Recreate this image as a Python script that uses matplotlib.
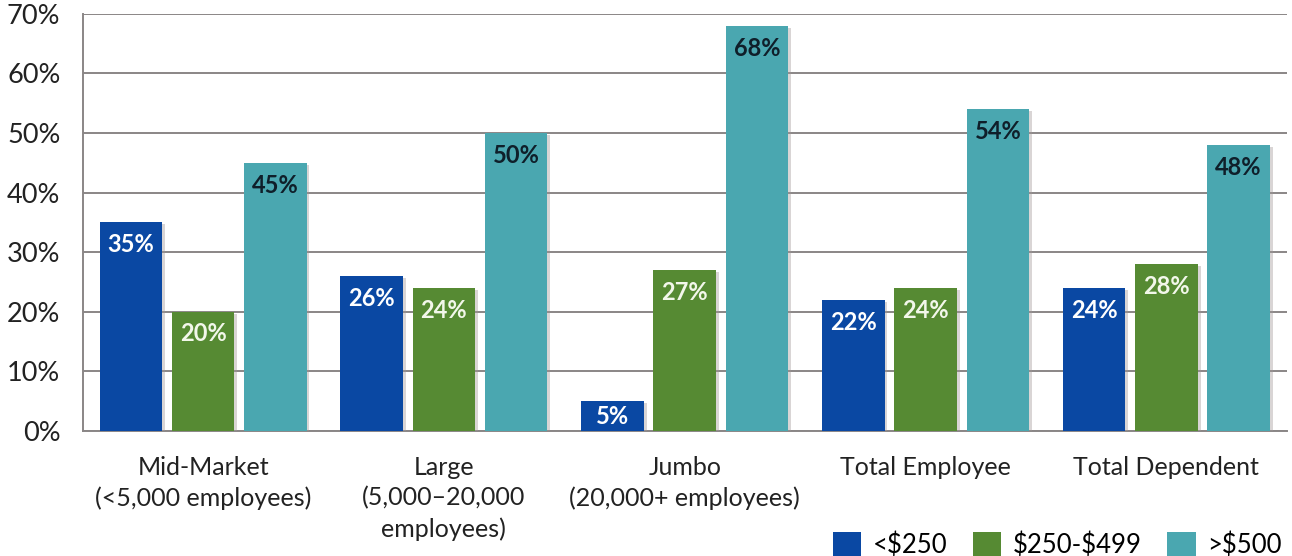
import numpy as np
import matplotlib
matplotlib.use("Agg")
import matplotlib.pyplot as plt
from matplotlib import patheffects as pe
from matplotlib.patches import Patch

plt.rcParams['font.family'] = ['Lato', 'DejaVu Sans']
plt.rcParams['text.parse_math'] = False

categories = ["Mid-Market\n(<5,000 employees)",
              "Large\n(5,000\u201320,000\nemployees)",
              "Jumbo\n(20,000+ employees)",
              "Total Employee",
              "Total Dependent"]
series_names = ["<$250", "$250-$499", ">$500"]
under_250 = [35, 26, 5, 22, 24]
from_250_499 = [20, 24, 27, 24, 28]
over_500 = [45, 50, 68, 54, 48]
yticks = [0, 10, 20, 30, 40, 50, 60, 70]

colors = ["#0a48a3", "#568a33", "#4aa7b0"]
label_colors = ["white", "#f2f7ea", "#0f1f2a"]

fig = plt.figure(figsize=(12.92, 5.56), dpi=100)
ax = fig.add_axes([0.064, 0.225, 0.932, 0.75])

x = np.arange(len(categories))
width = 0.26
step = 0.3
shadow = [pe.SimplePatchShadow(offset=(2, -1.5), shadow_rgbFace="#a09898", alpha=0.4), pe.Normal()]

for i, (vals, col, lc) in enumerate(zip([under_250, from_250_499, over_500], colors, label_colors)):
    pos = x + (i - 1) * step
    bars = ax.bar(pos, vals, width, color=col, zorder=3, label=series_names[i])
    for b in bars:
        b.set_path_effects(shadow)
    for p, v in zip(pos, vals):
        if v < 8:
            ax.text(p, v / 2, f"{v}%", ha="center", va="center", color=lc,
                    fontsize=17, fontweight="bold", zorder=4)
        else:
            ax.annotate(f"{v}%", (p, v), xytext=(0, -16), textcoords="offset points",
                        ha="center", va="center", color=lc, fontsize=17,
                        fontweight="bold", zorder=4)

ax.set_xlim(-0.5, 4.5)
ax.set_ylim(0, 70)
ax.set_yticks(yticks)
ax.set_yticklabels([f"{t}%" for t in yticks], fontsize=19.5, color="#222222")
ax.yaxis.grid(True, color="#8a8686", linewidth=1.4, zorder=0)
ax.set_axisbelow(True)
ax.tick_params(axis="y", length=0, pad=16)
ax.tick_params(axis="x", length=0, pad=18)
ax.set_xticks(x)
ax.set_xticklabels(categories, fontsize=18, color="#222222", linespacing=1.38, va="top")

for s in ["top", "right"]:
    ax.spines[s].set_visible(False)
ax.spines["left"].set_color("#8a8686")
ax.spines["left"].set_linewidth(1.4)
ax.spines["bottom"].set_color("#8a8686")
ax.spines["bottom"].set_linewidth(1.4)

handles = [Patch(facecolor=c, edgecolor="none") for c in colors]
fig.legend(handles, series_names, loc="center right", bbox_to_anchor=(1.0, 0.02),
           ncol=3, frameon=False, fontsize=18.5, handlelength=1.1, handleheight=1.1,
           handletextpad=0.45, columnspacing=1.0, borderaxespad=0.0)

fig.savefig("out.png", dpi=100)
